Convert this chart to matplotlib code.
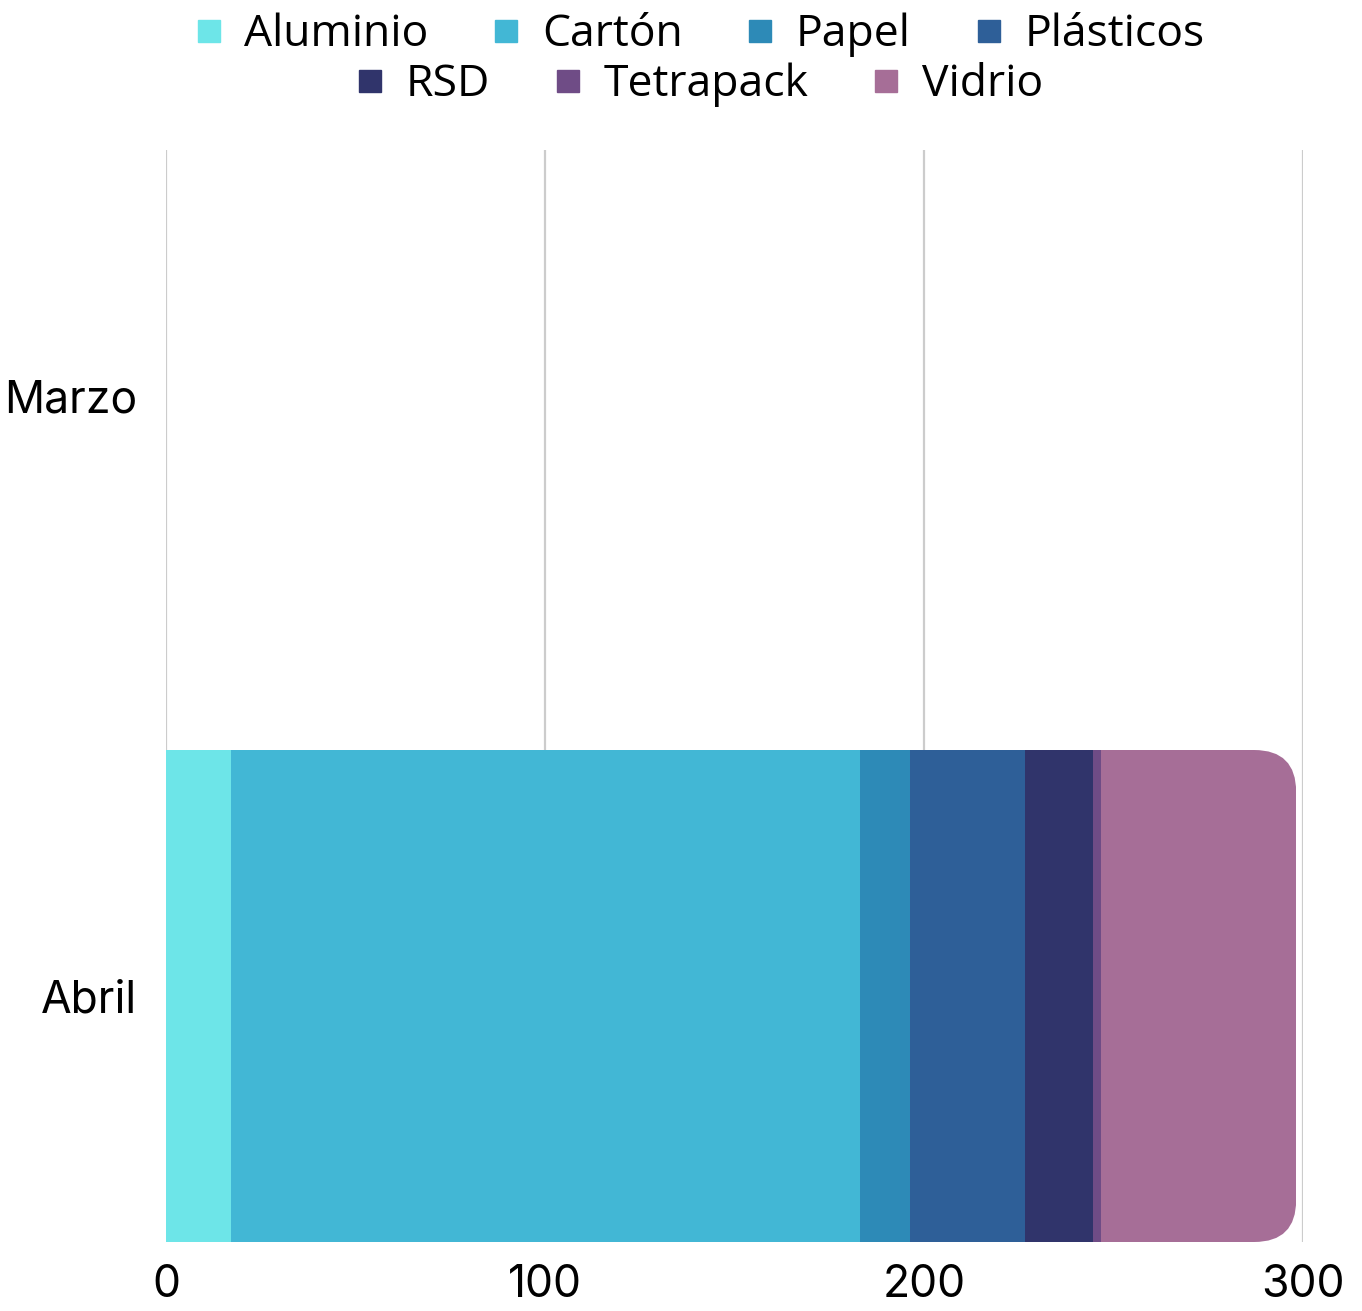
import matplotlib
matplotlib.use("Agg")
import matplotlib.pyplot as plt
from matplotlib.patches import FancyBboxPatch
from matplotlib.lines import Line2D
import numpy as np

categories = ["Abril", "Marzo"]
series_names = ["Aluminio", "Cartón", "Papel", "Plásticos", "RSD", "Tetrapack", "Vidrio"]
values_abril = [17.2, 166.0, 13.2, 30.3, 17.9, 2.1, 51.5]
values_marzo = [0, 0, 0, 0, 0, 0, 0]
colors = ["#6de5e8", "#42b7d5", "#2d8ab7", "#2e5f98", "#30346b", "#6f4c86", "#a66e97"]
xticks = [0, 100, 200, 300]

W, H = 1362, 1311
fig = plt.figure(figsize=(W / 100, H / 100), dpi=100)
ax = fig.add_axes([166 / W, (H - 1242) / H, (1303 - 166) / W, (1242 - 150) / H])

bar_h = 0.82
y = np.arange(len(categories))
left = np.zeros(len(categories))
containers = []
for i, name in enumerate(series_names):
    vals = np.array([values_abril[i], values_marzo[i]])
    c = ax.barh(y, vals, left=left, height=bar_h, color=colors[i], linewidth=0, zorder=2)
    containers.append(c)
    left = left + vals

ax.set_xlim(0, 300)
ax.set_ylim(-0.41, 1.41)

# rounded right end on the last segment
px_per_x = (1303 - 166) / 300.0
px_per_y = (1242 - 150) / 1.82
r_px = 42
rx = r_px / px_per_x
ry = r_px / px_per_y
total = left[0]
clip = FancyBboxPatch((0, y[0] - bar_h / 2), total, bar_h,
                      boxstyle=f"round,pad=0,rounding_size={rx}",
                      mutation_aspect=ry / rx, transform=ax.transData,
                      facecolor="none", edgecolor="none")
for rect in containers[-1]:
    rect.set_clip_path(clip)

ax.set_xticks(xticks)
ax.set_xticklabels([str(t) for t in xticks])
ax.set_yticks(y)
ax.set_yticklabels(categories)
ax.tick_params(axis="both", length=0, labelsize=32)
ax.tick_params(axis="y", pad=21)
ax.tick_params(axis="x", pad=16)
for lab in ax.get_xticklabels() + ax.get_yticklabels():
    lab.set_fontfamily(["Inter", "DejaVu Sans"])
for s in ax.spines.values():
    s.set_visible(False)
ax.grid(axis="x", color="#cccccc", linewidth=1.6, zorder=0)
ax.set_axisbelow(True)

def make_handles(idx):
    return [Line2D([], [], marker="s", linestyle="none", markersize=16,
                   markerfacecolor=colors[i], markeredgecolor=colors[i]) for i in idx]

legend_kw = dict(frameon=False, handlelength=0.5, handletextpad=0.55,
                 columnspacing=1.5, borderpad=0, borderaxespad=0,
                 prop={"family": ["Open Sans", "DejaVu Sans"], "size": 32})
leg1 = fig.legend(make_handles(range(4)), series_names[:4], ncol=4,
                  loc="center", bbox_to_anchor=(701 / W, 1 - 35 / H), **legend_kw)
leg2 = fig.legend(make_handles(range(4, 7)), series_names[4:], ncol=3,
                  loc="center", bbox_to_anchor=(701 / W, 1 - 85 / H), **legend_kw)

fig.savefig("out.png", dpi=100, facecolor="white")
